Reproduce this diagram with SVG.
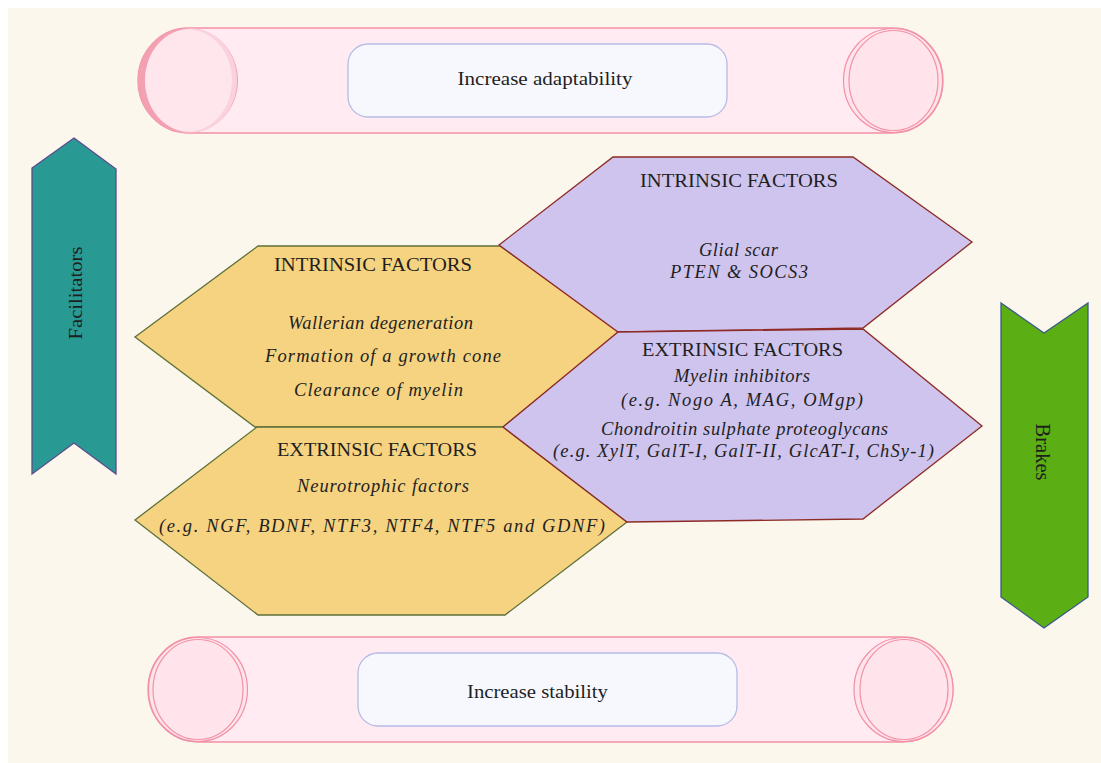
<svg xmlns="http://www.w3.org/2000/svg" width="1101" height="763" viewBox="0 0 1101 763">
<style>
.t{font-family:"Liberation Serif","DejaVu Serif",serif;fill:#1f1f1f;text-anchor:middle}
.cap{font-size:18.5px}
.it{font-size:18.5px;font-style:italic}
.lbl{font-size:19px}
.scroll{fill:#FFEBF1;stroke:#F291A5;stroke-width:1.3}
.cap-o{fill:#FFE4EC;stroke:#F291A5;stroke-width:1.2}
.box{fill:#F6F8FE;stroke:#B7BBE6;stroke-width:1.3}
.yhex{fill:#F6D381;stroke:#5E7038;stroke-width:1.3}
.phex{fill:#CFC4EE;stroke:#8E2A25;stroke-width:1.3}
</style>
<rect x="0" y="0" width="1101" height="763" fill="#ffffff"/>
<rect x="8" y="8" width="1093" height="755" fill="#FBF7EC"/>

<g id="scroll-top">
<path class="scroll" d="M188,28 H893 A50,52.5 0 0 1 893,133 H188 A50,52.5 0 0 1 188,28 Z"/>
<ellipse cx="188" cy="80.5" rx="50" ry="52.5" fill="#F2A0B2"/>
<ellipse cx="191" cy="80.5" rx="46" ry="52" fill="#FAD2DD"/>
<ellipse cx="188.5" cy="80.5" rx="43.5" ry="51" fill="#FFE6ED"/>
<ellipse class="cap-o" cx="893" cy="80.5" rx="49.5" ry="52"/>
<ellipse class="cap-o" cx="893.5" cy="80.5" rx="44.5" ry="50"/>
<rect class="box" x="348" y="44" width="379" height="73" rx="20"/>
<text class="t lbl" x="545" y="85" textLength="175" lengthAdjust="spacingAndGlyphs">Increase adaptability</text>
</g>

<g id="scroll-bottom">
<path class="scroll" d="M198,637 H903 A50,52.5 0 0 1 903,742 H198 A50,52.5 0 0 1 198,637 Z"/>
<ellipse class="cap-o" cx="198" cy="689.5" rx="49.5" ry="52"/>
<ellipse class="cap-o" cx="198" cy="689.5" rx="45" ry="50"/>
<ellipse class="cap-o" cx="903.5" cy="689.5" rx="49.5" ry="52"/>
<ellipse class="cap-o" cx="904" cy="689.5" rx="44" ry="50"/>
<rect class="box" x="358" y="653" width="379" height="73" rx="20"/>
<text class="t lbl" x="537.5" y="698" textLength="141" lengthAdjust="spacingAndGlyphs">Increase stability</text>
</g>

<g id="facilitators">
<polygon points="74,138 116,169 116,474 74,443 32,474 32,168" fill="#299A93" stroke="#5B4A8E" stroke-width="1.3"/>
<text class="t" font-size="19" transform="translate(75,293) rotate(-90)" x="0" y="7" textLength="93" lengthAdjust="spacingAndGlyphs">Facilitators</text>
</g>

<g id="brakes">
<polygon points="1001,303 1044,333 1088,303 1088,597 1044,628 1001,597" fill="#5BAE13" stroke="#3A5A8A" stroke-width="1.3"/>
<text class="t" font-size="20" transform="translate(1042,452) rotate(90)" x="0" y="6" textLength="57" lengthAdjust="spacingAndGlyphs">Brakes</text>
</g>

<g id="yellow-intrinsic">
<polygon class="yhex" points="258,246 500,246 620,332 503,427 255,427 135,337"/>
<text class="t cap" x="373" y="271" textLength="198" lengthAdjust="spacingAndGlyphs">INTRINSIC FACTORS</text>
<text class="t it" x="380.5" y="329" textLength="185" lengthAdjust="spacing">Wallerian degeneration</text>
<text class="t it" x="383" y="362" textLength="236" lengthAdjust="spacing">Formation of a growth cone</text>
<text class="t it" x="378.5" y="396" textLength="169" lengthAdjust="spacing">Clearance of myelin</text>
</g>

<g id="yellow-extrinsic">
<polygon class="yhex" points="257,427 503,427 627,522 505,615 258,615 135,520"/>
<text class="t cap" x="377" y="456" textLength="200" lengthAdjust="spacingAndGlyphs">EXTRINSIC FACTORS</text>
<text class="t it" x="383" y="492" textLength="172" lengthAdjust="spacing">Neurotrophic factors</text>
<text class="t it" x="382" y="532" textLength="446" lengthAdjust="spacing">(e.g. NGF, BDNF, NTF3, NTF4, NTF5 and GDNF)</text>
</g>

<g id="purple-intrinsic">
<polygon class="phex" points="613,157 853,157 972,242 863,328 618,332 499,245"/>
<text class="t cap" x="739" y="187" textLength="198" lengthAdjust="spacingAndGlyphs">INTRINSIC FACTORS</text>
<text class="t it" x="738.5" y="256" textLength="79" lengthAdjust="spacing">Glial scar</text>
<text class="t it" x="739" y="278" textLength="138" lengthAdjust="spacing">PTEN &amp; SOCS3</text>
</g>

<g id="purple-extrinsic">
<polygon class="phex" points="618,332 863,329 982,426 863,519 627,522 503,427"/>
<text class="t cap" x="742.5" y="356" textLength="201" lengthAdjust="spacingAndGlyphs">EXTRINSIC FACTORS</text>
<text class="t it" x="742" y="382" textLength="136" lengthAdjust="spacing">Myelin inhibitors</text>
<text class="t it" x="742" y="406" textLength="242" lengthAdjust="spacing">(e.g. Nogo A, MAG, OMgp)</text>
<text class="t it" x="744.5" y="435" textLength="287" lengthAdjust="spacing">Chondroitin sulphate proteoglycans</text>
<text class="t it" x="743.5" y="457" textLength="381" lengthAdjust="spacing">(e.g. XylT, GalT-I, GalT-II, GlcAT-I, ChSy-1)</text>
</g>

<g id="connectors"></g>
</svg>
